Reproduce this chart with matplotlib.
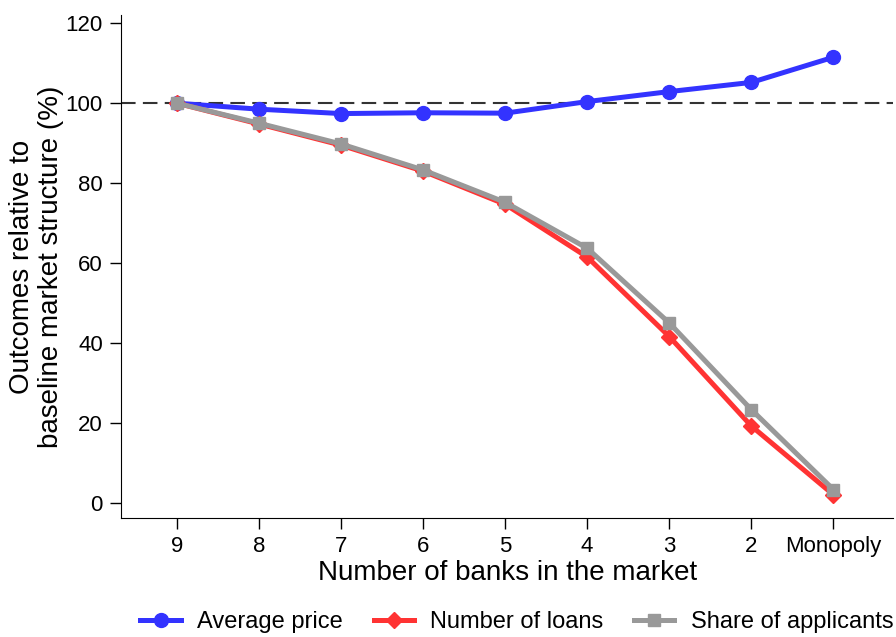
import matplotlib
matplotlib.use("Agg")
import matplotlib.pyplot as plt

plt.rcParams['font.family'] = ['Liberation Sans', 'DejaVu Sans']

labels = ['9', '8', '7', '6', '5', '4', '3', '2', 'Monopoly']
avg_price = [100, 98.5, 97.4, 97.6, 97.5, 100.4, 102.9, 105.2, 111.5]
num_loans = [100, 94.8, 89.5, 83.0, 74.7, 61.5, 41.6, 19.2, 2.0]
share_applicants = [100, 95.0, 89.8, 83.3, 75.2, 63.7, 45.0, 23.3, 3.3]

x = list(range(len(labels)))

fig = plt.figure(figsize=(8.96, 6.37), dpi=100)
ax = fig.add_axes([0.135, 0.187, 0.862, 0.789])

ax.axhline(100, color='#333333', lw=1.5, ls=(0, (7, 3.5)), zorder=1)

ax.plot(x, avg_price, color='#3333ff', lw=3.6, marker='o', ms=10, label='Average price', zorder=3)
ax.plot(x, num_loans, color='#ff3333', lw=3.6, marker='D', ms=8.5, label='Number of loans', zorder=3)
ax.plot(x, share_applicants, color='#999999', lw=3.6, marker='s', ms=8.5, label='Share of applicants', zorder=4)

ax.set_xlim(-0.68, 8.73)
ax.set_ylim(-3.8, 122)
ax.set_xticks(x)
ax.set_xticklabels(labels)
ax.set_yticks([0, 20, 40, 60, 80, 100, 120])
ax.tick_params(axis='both', labelsize=16, length=8, width=1, direction='out', pad=5)
for s in ['top', 'right']:
    ax.spines[s].set_visible(False)

ax.set_xlabel('Number of banks in the market', fontsize=20, labelpad=2)
ax.set_ylabel('Outcomes relative to\nbaseline market structure (%)', fontsize=20, labelpad=1,
              linespacing=1.15)

fig.legend(loc='center', bbox_to_anchor=(517 / 896, 1 - 622 / 637), ncol=3, frameon=False,
           fontsize=17, handlelength=1.7, columnspacing=1.3, handletextpad=0.7)

fig.savefig('out.png', dpi=100)
